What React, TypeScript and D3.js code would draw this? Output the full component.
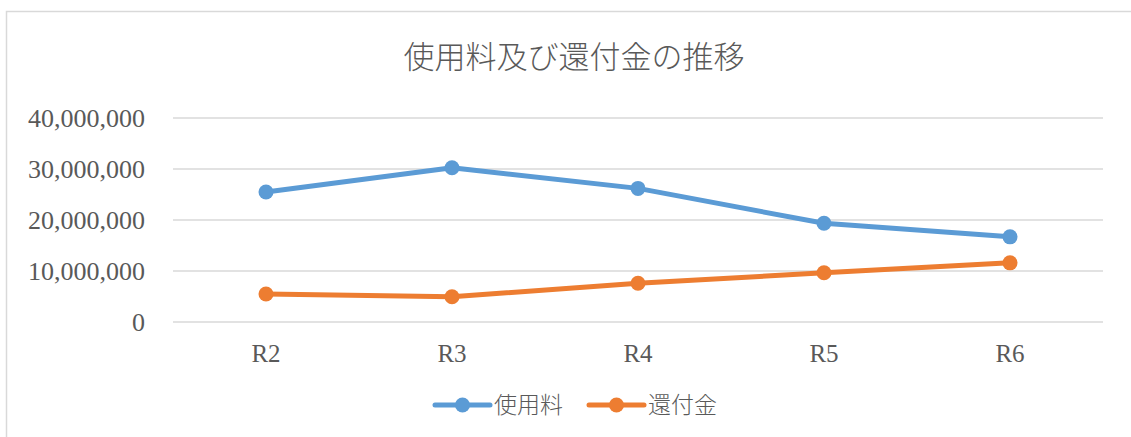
import React, { useRef, useEffect } from "react";
import * as d3 from "d3";

const categories = ["R2", "R3", "R4", "R5", "R6"];
const usageFees = [25500000, 30250000, 26200000, 19350000, 16700000];
const refunds = [5500000, 4950000, 7600000, 9650000, 11600000];
const yTicks = [0, 10000000, 20000000, 30000000, 40000000];
const seriesNames = ["使用料", "還付金"];

const App = () => {
  const svgRef = useRef<SVGSVGElement | null>(null);

  useEffect(() => {
    const svg = d3.select(svgRef.current);
    svg.selectAll("*").remove();

    const width = 1131;
    const height = 437;
    const margin = { top: 118, right: 28, bottom: 115, left: 173 };
    const textColor = "#595959";
    const gridColor = "#d9d9d9";
    const jpFont = "'Noto Sans CJK JP', 'Noto Sans', sans-serif";
    const numFont = "'Liberation Serif', 'DejaVu Serif', serif";

    // chart area border (runs off the right and bottom of the picture)
    svg
      .append("rect")
      .attr("x", 6.5)
      .attr("y", 11.5)
      .attr("width", width + 20)
      .attr("height", height + 20)
      .attr("fill", "#fff")
      .attr("stroke", gridColor)
      .attr("stroke-width", 1.5);

    const xScale = d3
      .scaleBand()
      .domain(categories)
      .range([margin.left, width - margin.right])
      .padding(0);

    const yScale = d3
      .scaleLinear()
      .domain([0, 40000000])
      .range([height - margin.bottom, margin.top]);

    const cx = (d: string) => (xScale(d) ?? 0) + xScale.bandwidth() / 2;

    // title
    svg
      .append("text")
      .attr("x", 574)
      .attr("y", 68)
      .attr("text-anchor", "middle")
      .attr("font-family", jpFont)
      .attr("font-size", 31)
      .attr("font-weight", 300)
      .attr("fill", textColor)
      .text("使用料及び還付金の推移");

    // horizontal grid lines
    const grid = svg.append("g");
    yTicks.forEach((tick) => {
      grid
        .append("line")
        .attr("x1", margin.left)
        .attr("x2", width - margin.right)
        .attr("y1", yScale(tick))
        .attr("y2", yScale(tick))
        .attr("stroke", gridColor)
        .attr("stroke-width", 1.5);
    });

    // y axis labels
    const yAxis = svg
      .append("g")
      .attr("transform", `translate(${margin.left - 28},0)`)
      .call(
        d3
          .axisLeft(yScale)
          .tickValues(yTicks)
          .tickSize(0)
          .tickPadding(0)
          .tickFormat((d) => d3.format(",")(d as number))
      );
    yAxis.select(".domain").remove();
    yAxis
      .selectAll("text")
      .attr("font-family", numFont)
      .attr("font-size", 26)
      .attr("fill", textColor);

    // x axis labels
    const xAxis = svg
      .append("g")
      .attr("transform", `translate(0,${height - margin.bottom + 22})`)
      .call(d3.axisBottom(xScale).tickSize(0).tickPadding(0));
    xAxis.select(".domain").remove();
    xAxis
      .selectAll("text")
      .attr("font-family", numFont)
      .attr("font-size", 25)
      .attr("fill", textColor)
      .attr("dy", "0.71em");

    const series = [
      { name: seriesNames[0], values: usageFees, color: "#5B9BD5" },
      { name: seriesNames[1], values: refunds, color: "#ED7D31" },
    ];

    const line = d3
      .line<number>()
      .x((_, i) => cx(categories[i]))
      .y((d) => yScale(d));

    series.forEach((s) => {
      svg
        .append("path")
        .datum(s.values)
        .attr("d", line)
        .attr("fill", "none")
        .attr("stroke", s.color)
        .attr("stroke-width", 5)
        .attr("stroke-linejoin", "round")
        .attr("stroke-linecap", "round");

      svg
        .append("g")
        .selectAll("circle")
        .data(s.values)
        .enter()
        .append("circle")
        .attr("cx", (_, i) => cx(categories[i]))
        .attr("cy", (d) => yScale(d))
        .attr("r", 7.5)
        .attr("fill", s.color);
    });

    // legend
    const legendY = 405;
    const legendX = [435, 589];
    series.forEach((s, i) => {
      const g = svg.append("g").attr("transform", `translate(${legendX[i]},${legendY})`);
      g.append("line")
        .attr("x1", 0)
        .attr("x2", 55)
        .attr("y1", 0)
        .attr("y2", 0)
        .attr("stroke", s.color)
        .attr("stroke-width", 5)
        .attr("stroke-linecap", "round");
      g.append("circle").attr("cx", 27.5).attr("cy", 0).attr("r", 7.5).attr("fill", s.color);
      g.append("text")
        .attr("x", 59)
        .attr("y", 8)
        .attr("font-family", jpFont)
        .attr("font-size", 23)
        .attr("font-weight", 300)
        .attr("fill", textColor)
        .text(s.name);
    });
  }, []);

  return (
    <svg
      ref={svgRef}
      width={1131}
      height={437}
      style={{ position: "absolute", left: 0, top: 0, display: "block" }}
    ></svg>
  );
};

export default App;
